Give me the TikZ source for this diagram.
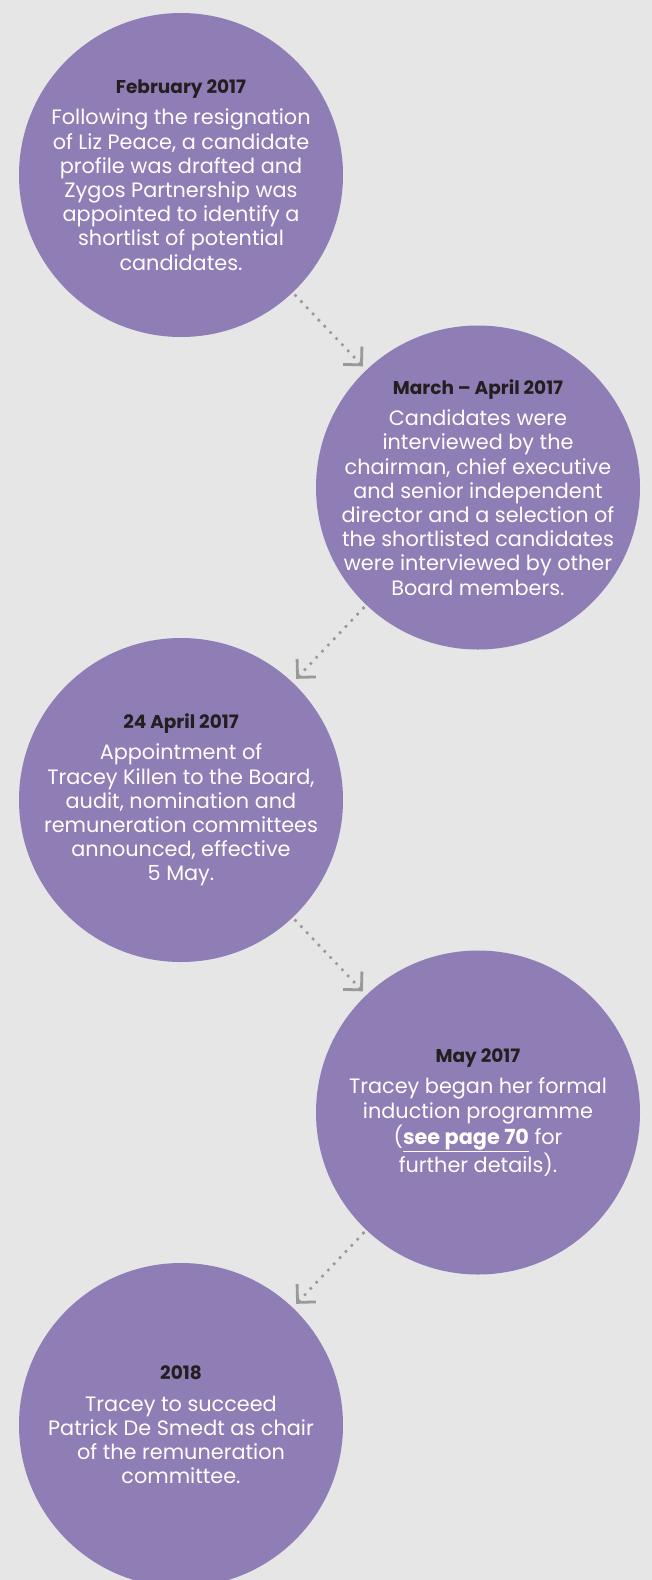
\documentclass[tikz,border=0pt]{standalone}
\usepackage{fontspec}
\setmainfont{Poppins}
\usetikzlibrary{arrows.meta}
\definecolor{bg}{HTML}{E6E6E6}
\definecolor{purp}{HTML}{8F7DB6}
\definecolor{datec}{HTML}{231F20}
\definecolor{arr}{HTML}{999999}
\newcommand{\stagetitle}[1]{{\fontsize{18.5}{20}\selectfont\bfseries\color{datec}#1}\\[7pt]}
\begin{document}
\begin{tikzpicture}[x=1pt,y=-1pt,
  stage/.style={circle, fill=purp, minimum size=324pt, inner sep=0pt},
  stagetext/.style={inner sep=0pt, text=white, align=center,
    font=\fontsize{20.8}{24.2}\selectfont},
  link/.style={draw=arr, line width=3.6pt, line cap=round, dash pattern=on 0pt off 8.5pt,
    shorten <=4pt, shorten >=5pt,
    -{Straight Barb[length=13pt, width=26pt, line width=2.8pt, sharp]}}]
\fill[bg] (0,0) rectangle (652,1580);
\useasboundingbox (0,0) rectangle (652,1580);
\node[stage] (s1) at (181,175) {};
\node[stage] (s2) at (478,487.5) {};
\node[stage] (s3) at (181,800) {};
\node[stage] (s4) at (478,1112.5) {};
\node[stage] (s5) at (181,1425) {};
\node[stagetext] (t1) at (s1) {\stagetitle{February 2017}Following the resignation\\of Liz Peace, a candidate\\profile was drafted and\\Zygos Partnership was\\appointed to identify a\\shortlist of potential\\candidates.};
\node[stagetext] (t2) at (s2) {\stagetitle{March – April 2017}Candidates were\\interviewed by the\\chairman, chief executive\\and senior independent\\director and a selection of\\the shortlisted candidates\\were interviewed by other\\Board members.};
\node[stagetext] (t3) at (s3) {\stagetitle{24 April 2017}Appointment of\\Tracey Killen to the Board,\\audit, nomination and\\remuneration committees\\announced, effective\\5 May.};
\node[stagetext] (t4) at (s4) {\stagetitle{May 2017}Tracey began her formal\\induction programme\\(\underline{\bfseries see page 70} for\\further details).};
\node[stagetext] (t5) at (s5) {\stagetitle{2018}Tracey to succeed\\Patrick De Smedt as chair\\of the remuneration\\committee.};
\draw[link] (s1) -- (s2);
\draw[link] (s2) -- (s3);
\draw[link] (s3) -- (s4);
\draw[link] (s4) -- (s5);
\end{tikzpicture}
\end{document}
